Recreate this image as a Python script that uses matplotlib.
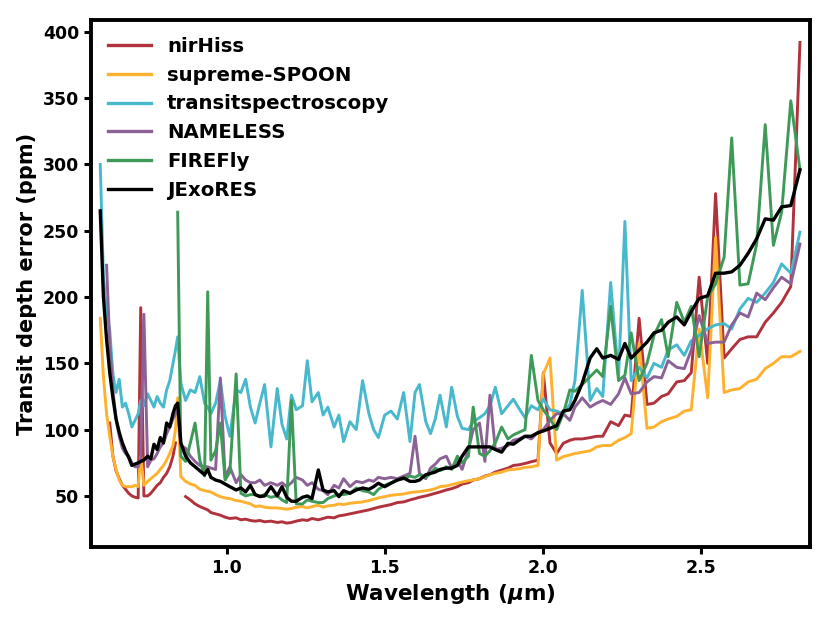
import numpy as np
import matplotlib
matplotlib.use("Agg")
import matplotlib.pyplot as plt

nan = np.nan

# --- wavelength grid (um): order 2, order 1 blue, order 1 mid, order 1 red ---
wl_a = [0.60, 0.61, 0.62, 0.63, 0.64, 0.65, 0.66, 0.67, 0.68, 0.69, 0.70, 0.71, 0.72,
        0.728, 0.738, 0.75, 0.76, 0.77, 0.78, 0.79, 0.80, 0.81, 0.82, 0.83, 0.838, 0.845]
wl_b = [0.855, 0.87, 0.885, 0.90, 0.915, 0.93, 0.94, 0.95, 0.965, 0.98, 0.995, 1.01,
        1.03, 1.045, 1.06, 1.075, 1.09, 1.105, 1.12, 1.14, 1.16, 1.175, 1.19, 1.205,
        1.22, 1.24, 1.255, 1.27, 1.29, 1.305, 1.32, 1.34, 1.355, 1.37, 1.39, 1.41,
        1.43, 1.45, 1.465, 1.48, 1.50]
wl_c = [1.52, 1.54, 1.56, 1.58, 1.596, 1.61, 1.63, 1.645, 1.66, 1.675, 1.695, 1.712,
        1.73, 1.745, 1.765, 1.78, 1.80, 1.817, 1.833, 1.85, 1.87, 1.89, 1.907, 1.925,
        1.944, 1.964, 1.985, 2.002, 2.023, 2.044, 2.065, 2.086, 2.102]
wl_d = [2.125, 2.15, 2.171, 2.19, 2.215, 2.24, 2.26, 2.28, 2.305, 2.33, 2.352, 2.376,
        2.397, 2.424, 2.448, 2.47, 2.495, 2.522, 2.547, 2.574, 2.598, 2.624, 2.65,
        2.677, 2.704, 2.73, 2.756, 2.785, 2.814]
wavelength = wl_a + wl_b + wl_c + wl_d

# --- transit depth errors (ppm) ---
nirhiss = [nan, nan, nan, 105, 80, 69, 63, 58, 55, 52, 50, 49, 48.5, 192, 50, 50, 52, 55,
           58, 60, 64, 67, 72, 80, 90, nan] + \
          [nan, 49.5, 47, 44, 42, 40.5, 39.5, 37.5, 36.5, 35.5, 34, 33, 33.5, 32, 32.5,
           31.5, 31, 31.5, 30.5, 31, 30, 30.5, 29.5, 30, 31, 32, 31.5, 33, 32, 33, 34,
           33.5, 35, 35.5, 36.5, 37.5, 38.5, 39.5, 40.5, 41.5, 42.5] + \
          [43.5, 45, 45.5, 47, 48, 49, 50, 51, 52, 53, 54.5, 55.5, 57, 59, 60, 62, 63, 65,
           66, 68, 69.5, 71, 73, 73.5, 74.5, 75.8, 77, 143, 90, 82, 89.7, 92, 93] + \
          [93, 94, 95, 95, 106, 103, 111, 110, 184, 119, 120, 125, 127, 136, 137, 143, 215,
           150, 278, 154, 161, 168, 170, 170, 181, 188, 196, 208, 392]

supreme_spoon = [184, 140, 112, 95, 80, 70, 62, 58, 57, 57, 57, 58, 57, 80, 58, 61, 63,
                 65, 67, 70, 73, 77, 82, 88, 100, 124] + \
                [64.5, 61, 59, 58, 55, 54, 53.5, 53, 51, 49.5, 48.5, 48, 46.5, 46, 45, 44,
                 42, 42.5, 41.5, 41, 41, 40.5, 40, 40.5, 41.5, 42, 41, 42, 43, 41.5, 42.5,
                 43, 44, 43.5, 44.5, 45, 45.5, 46.5, 47.5, 48.5, 49.5] + \
                [50.5, 51, 51.5, 52.5, 53, 53.3, 54, 54.5, 55.5, 57, 57.5, 58.5, 59.5, 60.5,
                 61.5, 62, 63, 64.5, 66, 67, 68, 69.6, 70, 70.5, 71.5, 72, 73, 142, 154, 77,
                 79.6, 81, 82] + \
                [83, 84, 87, 88, 88, 92, 94, 97, 165, 101, 102, 106, 108, 110, 114, 115, 176,
                 124, 245, 128, 130, 131, 136, 138, 146, 150, 155, 155, 159]

transitspec = [300, 215, 190, 175, 142, 128, 138, 117, 120, 112, 102, 107, 112, 122, 118,
               127, 122, 117, 125, 120, 117, 130, 137, 150, 160, 170] + \
              [135, 122, 130, 128, 140, 120, 117, 112, 120, 137, 110, 95, 130, 128, 138, 117,
               105, 120, 134, 87, 131, 104, 93, 126, 115, 118, 152, 121, 128, 111, 117, 102,
               111, 91, 106, 100, 137, 112, 100, 94, 111] + \
              [114, 108, 128, 91, 128, 134, 106, 97, 108, 126, 102, 132, 110, 101, 100, 106,
               109, 112, 118, 132, 112, 118, 123, 116, 109, 118, 115, 123, 115, 114, 112, 119,
               137] + \
              [205, 122, 131, 125, 211, 140, 257, 137, 147, 139, 150, 147, 160, 164, 156, 167,
               171, 176, 179, 180, 176, 191, 199, 196, 203, 211, 225, 218, 249]

nameless = [nan, nan, 224, 165, 130, 108, 95, 86, 82, 80, 75, 72, 72, 78, 187, 72, 77, 78,
            82, 87, 90, 97, 102, 108, 112, 115] + \
           [88, 86, 80, 76, 73, 72, 72, 71, 70, 139, 64, 72, 60, 66, 62, 60, 60, 62, 58, 60,
            58, 60, 57, 60, 64, 62, 58, 60, 55, 54, 51, 58, 56, 63, 57, 61, 60, 62, 61, 64,
            63] + \
           [64, 63, 65, 67, 95, 67, 63, 71, 74, 78, 80, 71, 77, 70, 85, 100, 105, 76, 126, 85,
            86, 88, 92, 93, 95, 93, 98, 100, 107, 112, 112, 107, 117] + \
           [124, 117, 120, 122, 119, 127, 139, 127, 128, 136, 140, 139, 152, 147, 146, 160,
            186, 165, 166, 166, 179, 188, 185, 203, 198, 207, 215, 210, 240]

firefly = [nan] * 25 + [264] + \
          [80, 76, 90, 105, 77, 65, 204, 77, 84, 105, 62, 68, 142, 52, 50, 51, 51, 50, 51,
           49, 50, 47, 45, 122, 44, 44, 47, 46, 45, 45, 48, 50, 51, 51, 52, 56, 54, 53, 51,
           55, 58] + \
          [60, 62, 63, 65, 64, 66, 64, 67, 71, 69, 72, 70, 80, 75, 80, 117, 82, 80, 84, 90,
           102, 93, 96, 98, 100, 156, 122, 115, 108, 100, 112, 130, 129] + \
          [134, 140, 145, 140, 193, 137, 141, 173, 137, 150, 171, 183, 155, 196, 181, 193,
           155, 200, 210, 230, 320, 209, 210, 240, 330, 239, 264, 348, 296]

jexores = [265, 200, 168, 143, 124, 108, 98, 90, 84, 79, 73, 74, 75, 76, 77, 80, 78, 89,
           85, 94, 90, 105, 102, 112, 118, 120] + \
          [90, 80, 75, 72, 69, 66, 70, 64, 62, 61, 59, 57, 54.5, 56, 53, 58, 51, 49.5, 50,
           57, 50, 57, 49, 46, 46, 49, 50, 48, 69.6, 54.5, 53, 54, 49.5, 54, 52, 54.5, 56,
           55, 57, 59.6, 57] + \
          [59.6, 62, 63.5, 61, 61, 62, 66, 67, 68, 70, 71, 71, 73, 80, 87, 87, 87, 87, 87,
           85, 83, 89.7, 89, 92, 95, 95, 97.7, 99, 101, 103, 114, 115, 122] + \
          [135, 154, 161, 154, 156, 153, 165, 154, 160, 166, 173, 175, 181, 185, 179, 189,
           199, 201, 218, 218, 219, 224, 233, 244, 259, 258, 268, 269, 296]

labels = ['nirHiss', 'supreme-SPOON', 'transitspectroscopy', 'NAMELESS', 'FIREFly', 'JExoRES']
colors = ['#b0323c', '#fdb12e', '#48b8cc', '#8c6196', '#3f9a59', '#000000']
series = [nirhiss, supreme_spoon, transitspec, nameless, firefly, jexores]

plt.rcParams['font.family'] = 'DejaVu Sans'
plt.rcParams['font.weight'] = 'bold'
plt.rcParams['axes.labelweight'] = 'bold'

fig = plt.figure(figsize=(8.3, 6.23), dpi=100)
ax = fig.add_axes([0.1096, 0.122, 0.8664, 0.846])

for vals, lab, c in zip(series, labels, colors):
    lw = 2.1 if c != '#000000' else 2.4
    ax.plot(wavelength, vals, color=c, lw=lw, label=lab)

ax.set_xlim(0.5706, 2.846)
ax.set_ylim(11.5, 409)
ax.set_xticks([1.0, 1.5, 2.0, 2.5])
ax.set_yticks([50, 100, 150, 200, 250, 300, 350, 400])
ax.tick_params(direction='out', length=5, width=2.2, labelsize=12.5)
for sp in ax.spines.values():
    sp.set_linewidth(2.8)

ax.set_xlabel(r'Wavelength ($\mu$m)', fontsize=15.5)
ax.set_ylabel('Transit depth error (ppm)', fontsize=15)

leg = ax.legend(loc='upper left', frameon=False, fontsize=14.2, handlelength=2.2,
                handletextpad=0.8, labelspacing=0.5, borderaxespad=0.45)
for h in leg.get_lines():
    h.set_linewidth(2.4)

fig.savefig('out.png', dpi=100)
